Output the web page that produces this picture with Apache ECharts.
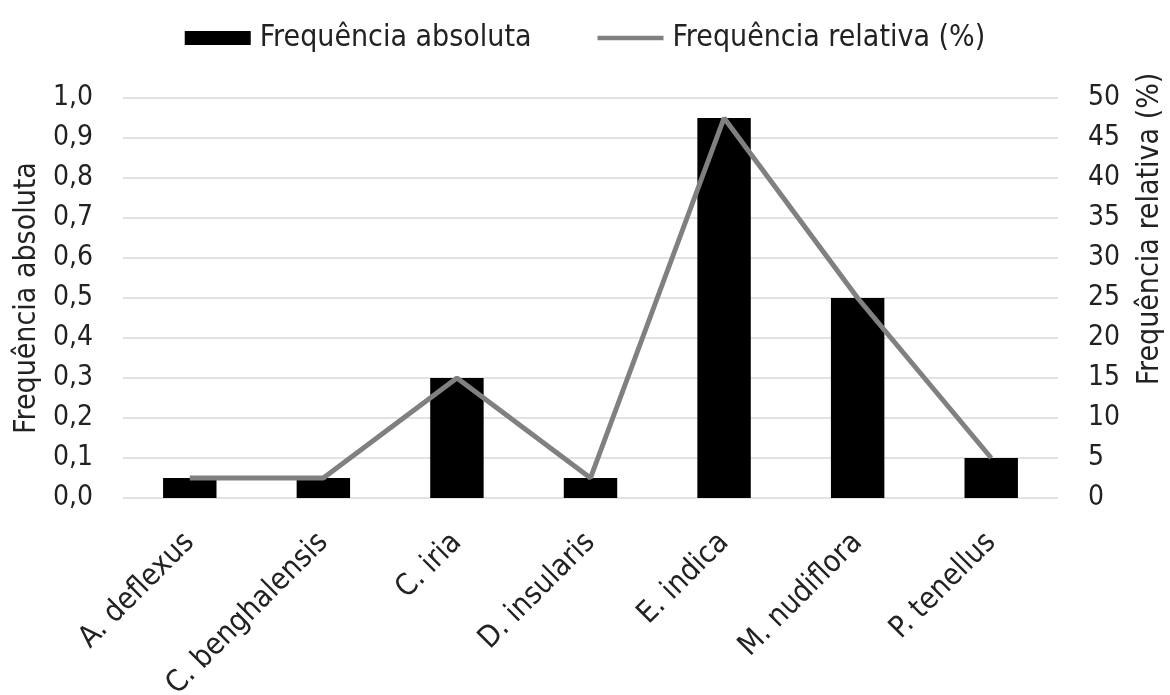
<!DOCTYPE html>
<html>
<head>
<meta charset="utf-8">
<script src="https://cdn.jsdelivr.net/npm/echarts@6/dist/echarts.min.js"></script>
<style>
  html, body { margin: 0; padding: 0; background: #fff; }
  #chart { width: 1170px; height: 695px; }
</style>
</head>
<body>
<div id="chart"></div>
<script>
// Weed species sampled
const species = ['A. deflexus', 'C. benghalensis', 'C. iria', 'D. insularis', 'E. indica', 'M. nudiflora', 'P. tenellus'];
// Absolute frequency (0–1)
const freqAbsoluta = [0.05, 0.05, 0.3, 0.05, 0.95, 0.5, 0.1];
// Relative frequency (%)
const freqRelativa = [2.5, 2.5, 15, 2.5, 47.5, 25, 5];

const FONT = '"DejaVu Sans Condensed", "DejaVu Sans", sans-serif';
const TXT = '#222';

const chart = echarts.init(document.getElementById('chart'), null, { renderer: 'canvas' });

chart.setOption({
  animation: false,
  textStyle: { fontFamily: FONT },
  legend: {
    top: 18,
    left: 'center',
    itemGap: 66,
    itemWidth: 66,
    itemHeight: 14,
    textStyle: { fontFamily: FONT, fontSize: 30, color: TXT, padding: [0, 0, 0, 4] },
    data: [
      { name: 'Frequência absoluta', icon: 'rect' },
      { name: 'Frequência relativa (%)', icon: 'path://M0,0 L75,0 L75,5 L0,5 Z' }
    ]
  },
  grid: {
    left: 123, right: 112, top: 98, bottom: 197,
    containLabel: false,
    outerBoundsMode: 'none'
  },
  xAxis: {
    type: 'category',
    data: species,
    axisLine: { show: false },
    axisTick: { show: false },
    axisLabel: {
      rotate: 45,
      margin: 40,
      interval: 0,
      fontFamily: FONT,
      fontSize: 30,
      color: TXT
    }
  },
  yAxis: [
    {
      type: 'value',
      min: 0,
      max: 1,
      interval: 0.1,
      name: 'Frequência absoluta',
      nameLocation: 'middle',
      nameGap: 80,
      nameRotate: 90,
      nameTextStyle: { fontFamily: FONT, fontSize: 30, color: TXT },
      axisLine: { show: false },
      axisTick: { show: false },
      splitLine: { lineStyle: { color: '#d9d9d9', width: 1.5 } },
      axisLabel: {
        margin: 30,
        fontFamily: FONT,
        fontSize: 28,
        color: TXT,
        formatter: v => v.toFixed(1).replace('.', ',')
      }
    },
    {
      type: 'value',
      min: 0,
      max: 50,
      interval: 5,
      position: 'right',
      axisLine: { show: false },
      axisTick: { show: false },
      splitLine: { show: false },
      axisLabel: {
        margin: 30,
        fontFamily: FONT,
        fontSize: 28,
        color: TXT
      }
    }
  ],
  graphic: [
    {
      type: 'text',
      x: 1150,
      y: 229,
      rotation: Math.PI / 2,
      style: {
        text: 'Frequência relativa (%)',
        fontFamily: FONT,
        fontSize: 30,
        fill: TXT,
        align: 'center',
        verticalAlign: 'middle'
      }
    }
  ],
  series: [
    {
      name: 'Frequência absoluta',
      type: 'bar',
      yAxisIndex: 0,
      data: freqAbsoluta,
      barWidth: '40%',
      itemStyle: { color: '#000' }
    },
    {
      name: 'Frequência relativa (%)',
      type: 'line',
      yAxisIndex: 1,
      data: freqRelativa,
      showSymbol: false,
      symbol: 'none',
      lineStyle: { color: '#808080', width: 5 },
      itemStyle: { color: '#808080' }
    }
  ]
});
</script>
</body>
</html>
